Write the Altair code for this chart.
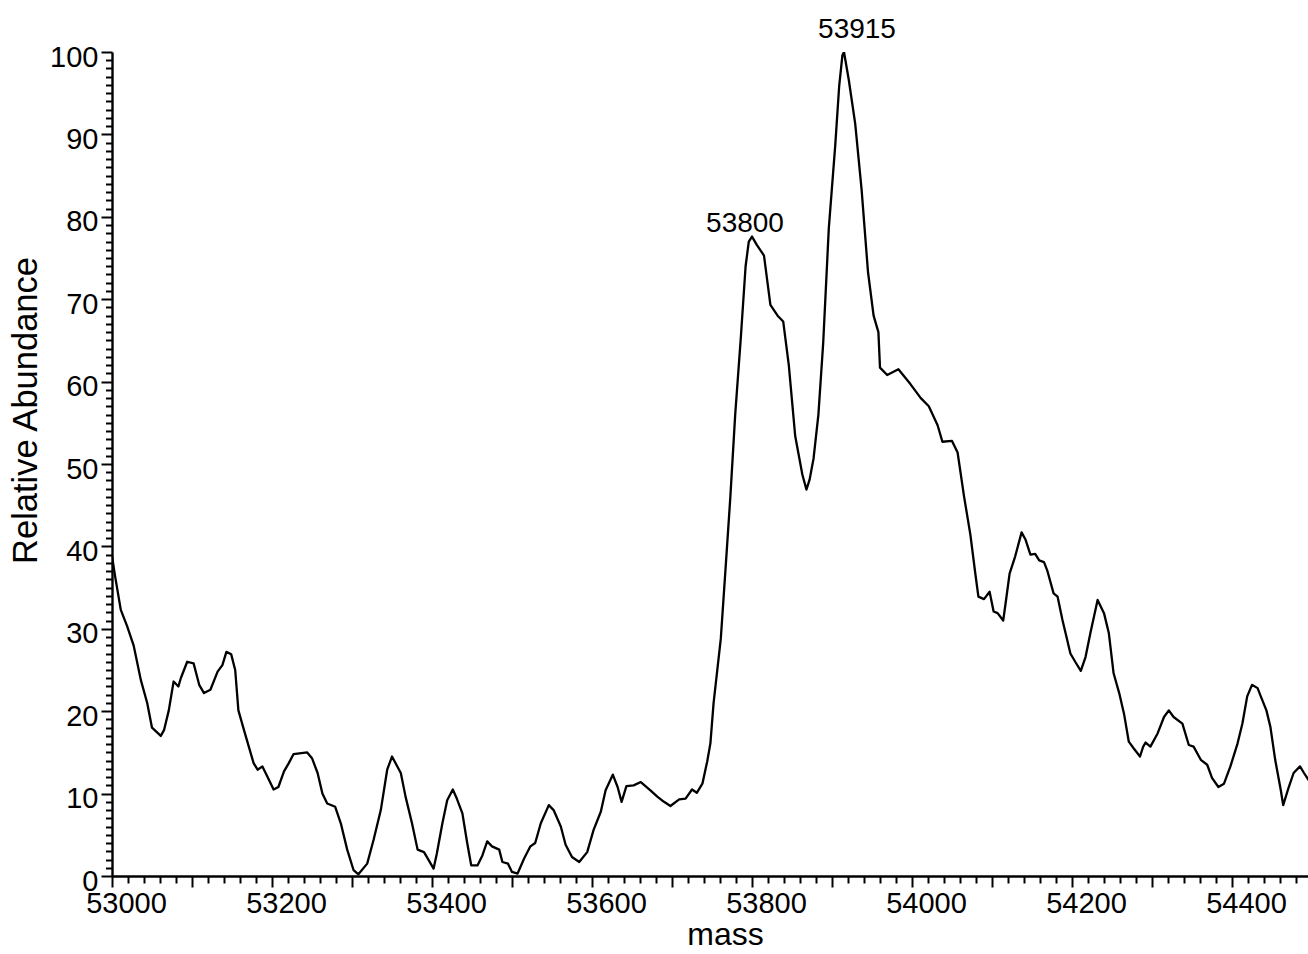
import altair as alt
import pandas as pd

# Deconvoluted spectrum: mass (Da) vs. relative abundance (%)
mass = [
    53000, 53004, 53011, 53019, 53027, 53036, 53044, 53050, 53061, 53065,
    53071, 53077, 53083, 53086, 53094, 53102, 53109, 53115, 53123, 53132,
    53138, 53143, 53149, 53154, 53158, 53165, 53171, 53177, 53182, 53188,
    53194, 53202, 53208, 53215, 53221, 53227, 53244, 53250, 53257, 53263,
    53269, 53279, 53286, 53294, 53302, 53308, 53319, 53327, 53336, 53344,
    53350, 53361, 53367, 53375, 53382, 53390, 53396, 53402, 53406, 53413,
    53419, 53426, 53431, 53438, 53444, 53449, 53457, 53463, 53469, 53475,
    53484, 53488, 53495, 53500, 53507, 53515, 53523, 53529, 53536, 53546,
    53552, 53561, 53567, 53575, 53584, 53594, 53602, 53611, 53617, 53626,
    53632, 53637, 53643, 53652, 53661, 53673, 53682, 53690, 53698, 53709,
    53717, 53725, 53731, 53738, 53744, 53748, 53752, 53761, 53767, 53773,
    53779, 53786, 53792, 53796, 53800, 53806, 53815, 53823, 53832, 53839,
    53846, 53854, 53863, 53868, 53872, 53877, 53883, 53889, 53896, 53904,
    53909, 53913, 53915, 53921, 53929, 53937, 53945, 53952, 53958, 53960,
    53969, 53983, 53998, 54011, 54021, 54032, 54038, 54050, 54057, 54065,
    54073, 54079, 54083, 54090, 54097, 54102, 54107, 54114, 54117, 54122,
    54129, 54137, 54142, 54148, 54154, 54159, 54165, 54169, 54177, 54182,
    54188, 54198, 54204, 54211, 54217, 54223, 54232, 54240, 54246, 54252,
    54259, 54265, 54271, 54277, 54285, 54289, 54292, 54298, 54307, 54315,
    54321, 54327, 54338, 54346, 54352, 54361, 54369, 54375, 54383, 54390,
    54398, 54407, 54413, 54419, 54425, 54432, 54436, 54443, 54448, 54454,
    54461, 54464, 54471, 54477, 54485, 54490, 54496,
]
abundance = [
    38.8, 36.3, 32.3, 30.3, 28.0, 23.8, 21.0, 18.0, 17.0, 17.7,
    20.1, 23.6, 23.0, 24.0, 26.0, 25.8, 23.2, 22.2, 22.6, 24.8,
    25.6, 27.2, 26.9, 25.0, 20.1, 17.7, 15.7, 13.7, 12.9, 13.3,
    12.1, 10.5, 10.8, 12.7, 13.7, 14.8, 15.0, 14.3, 12.5, 10.0,
    8.8, 8.4, 6.4, 3.2, 0.7, 0.2, 1.5, 4.4, 8.0, 12.9,
    14.5, 12.5, 9.6, 6.4, 3.2, 2.9, 1.9, 0.9, 2.7, 6.4,
    9.2, 10.5, 9.4, 7.6, 4.0, 1.3, 1.3, 2.5, 4.2, 3.6,
    3.2, 1.7, 1.5, 0.5, 0.3, 2.1, 3.6, 4.0, 6.4, 8.6,
    8.0, 6.0, 3.8, 2.3, 1.7, 2.9, 5.6, 7.8, 10.4, 12.3,
    10.8, 9.0, 10.9, 11.0, 11.4, 10.4, 9.6, 9.0, 8.5, 9.3,
    9.4, 10.5, 10.1, 11.2, 13.9, 16.1, 21.0, 28.8, 37.4, 46.1,
    56.0, 65.3, 74.0, 77.0, 77.6, 76.6, 75.3, 69.3, 68.0, 67.3,
    62.0, 53.4, 48.7, 46.9, 48.1, 50.7, 56.0, 64.7, 78.6, 88.6,
    95.9, 99.6, 100.0, 96.6, 91.3, 83.3, 73.3, 68.0, 66.0, 61.7,
    60.8, 61.5, 59.7, 58.0, 57.0, 54.7, 52.7, 52.8, 51.4, 46.1,
    41.4, 36.8, 33.9, 33.6, 34.5, 32.1, 31.9, 31.0, 33.1, 36.7,
    38.8, 41.7, 40.8, 39.0, 39.1, 38.3, 38.1, 37.1, 34.3, 33.9,
    31.1, 27.0, 26.0, 24.9, 26.6, 29.5, 33.5, 31.9, 29.5, 24.6,
    22.2, 19.7, 16.3, 15.5, 14.5, 15.7, 16.2, 15.7, 17.3, 19.3,
    20.1, 19.3, 18.5, 15.9, 15.7, 14.1, 13.5, 11.9, 10.8, 11.2,
    13.3, 16.1, 18.5, 21.8, 23.2, 22.8, 21.8, 20.1, 18.1, 14.1,
    10.4, 8.6, 10.8, 12.5, 13.3, 12.5, 11.6,
]

# Labelled peaks
peak_mass = [53800, 53915]
peak_abundance = [77.6, 100.0]
peak_label = ["53800", "53915"]

# Tick positions: every 20 Da on x (labels every 200), every 1 % on y (labels every 10)
x_tick_values = list(range(53000, 54481, 20))
y_tick_values = list(range(0, 101))

FONT = "Liberation Sans"

spectrum = pd.DataFrame({"mass": mass, "abundance": abundance})
peaks = pd.DataFrame({"mass": peak_mass, "abundance": peak_abundance, "label": peak_label})

x_scale = alt.Scale(domain=[53000, 54495], nice=False, zero=False)
y_scale = alt.Scale(domain=[0, 100], nice=False, zero=True)

x_axis = alt.Axis(
    values=x_tick_values,
    tickCount=1000,
    format="d",
    labelExpr="datum.value % 200 === 0 ? datum.label : ''",
    tickSize={"condition": {"test": "datum.value % 100 === 0", "value": 11}, "value": 7},
    tickWidth=2,
    tickColor="black",
    domainColor="black",
    domainWidth=2.4,
    grid=False,
    labelFont=FONT,
    labelFontSize=29,
    labelColor="black",
    labelPadding=2,
    labelOffset=14,
    labelFlush=False,
    labelOverlap=False,
    labelBound=False,
    title="mass",
    titleFont=FONT,
    titleFontSize=32,
    titleFontWeight="normal",
    titleColor="black",
    titleX=613,
    titleY=68,
    titleAlign="center",
    titleBaseline="alphabetic",
)

y_axis = alt.Axis(
    values=y_tick_values,
    tickCount=1000,
    format="d",
    labelExpr="datum.value % 10 === 0 ? datum.label : ''",
    tickSize={"condition": {"test": "datum.value % 10 === 0", "value": 11}, "value": 6.5},
    tickWidth=2,
    tickColor="black",
    domainColor="black",
    domainWidth=2.4,
    grid=False,
    labelFont=FONT,
    labelFontSize=29,
    labelColor="black",
    labelPadding=3,
    labelOffset=5,
    labelFlush=False,
    labelOverlap=False,
    labelBound=False,
    title="Relative Abundance",
    titleFont=FONT,
    titleFontSize=34.5,
    titleFontWeight="normal",
    titleColor="black",
    titleAngle=270,
    titleX=-76,
    titleY=358,
    titleAlign="center",
    titleBaseline="alphabetic",
)

line = alt.Chart(spectrum).mark_line(
    color="black", strokeWidth=2.3, clip=True, strokeJoin="round"
).encode(
    x=alt.X("mass:Q", scale=x_scale, axis=x_axis),
    y=alt.Y("abundance:Q", scale=y_scale, axis=y_axis),
)

label_left = alt.Chart(peaks[peaks["label"] == "53800"]).mark_text(
    font=FONT, fontSize=28, color="black", align="center", baseline="alphabetic", dx=-7, dy=-5
).encode(
    x=alt.X("mass:Q", scale=x_scale),
    y=alt.Y("abundance:Q", scale=y_scale),
    text="label:N",
)

label_right = alt.Chart(peaks[peaks["label"] == "53915"]).mark_text(
    font=FONT, fontSize=28, color="black", align="center", baseline="alphabetic", dx=13, dy=-14
).encode(
    x=alt.X("mass:Q", scale=x_scale),
    y=alt.Y("abundance:Q", scale=y_scale),
    text="label:N",
)

chart = alt.layer(line, label_left, label_right).properties(
    width=1196,
    height=824,
    autosize=alt.AutoSizeParams(type="none"),
    padding={"left": 112, "top": 52, "right": 0, "bottom": 78},
    background="white",
).configure_view(stroke=None)

chart.save("out.html", embed_options={"renderer": "svg", "actions": False})
